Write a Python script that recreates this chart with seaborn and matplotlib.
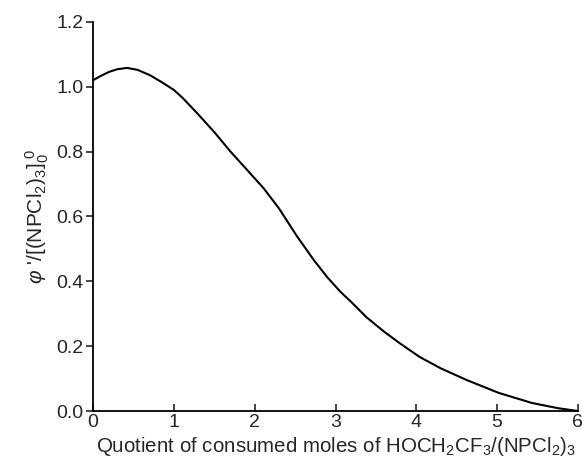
import matplotlib
matplotlib.use("Agg")
import matplotlib.pyplot as plt
import seaborn as sns
import pandas as pd

# values
quotient = [0, 0.1, 0.2, 0.3, 0.42, 0.55, 0.7, 0.85, 1.0, 1.11, 1.3, 1.5, 1.7,
            1.9, 2.11, 2.3, 2.52, 2.73, 2.9, 3.06, 3.2, 3.38, 3.6, 3.79, 4.04,
            4.3, 4.62, 5.02, 5.43, 5.75, 6.0]
phi_ratio = [1.02, 1.034, 1.046, 1.054, 1.058, 1.052, 1.036, 1.014, 0.99, 0.965,
             0.915, 0.86, 0.80, 0.745, 0.687, 0.625, 0.54, 0.466, 0.412, 0.368,
             0.335, 0.29, 0.245, 0.21, 0.167, 0.132, 0.096, 0.056, 0.025, 0.009,
             0.0]
xticks = [0, 1, 2, 3, 4, 5, 6]
yticks = [0.0, 0.2, 0.4, 0.6, 0.8, 1.0, 1.2]

df = pd.DataFrame({"q": quotient, "phi": phi_ratio})

sns.set_style("ticks")
plt.rcParams['font.family'] = ['Liberation Sans', 'DejaVu Sans']
plt.rcParams['mathtext.fontset'] = 'custom'
plt.rcParams['mathtext.rm'] = 'Liberation Sans'
plt.rcParams['mathtext.it'] = 'Liberation Sans:italic'

fig = plt.figure(figsize=(5.82, 4.65), dpi=100)
ax = fig.add_axes([0.16, 0.116, 0.833, 0.837])
sns.lineplot(data=df, x="q", y="phi", color="black", linewidth=1.5, ax=ax)
ax.lines[0].set_clip_on(False)

ax.set_xlim(0, 6)
ax.set_ylim(0, 1.2)
ax.set_xticks(xticks)
ax.set_yticks(yticks)
ax.set_yticklabels([f"{v:.1f}" for v in yticks])
ax.tick_params(axis="x", direction="in", length=5, width=1.2, labelsize=14, pad=2)
ax.tick_params(axis="y", direction="out", length=5, width=1.2, labelsize=14, pad=2)
for s in ["left", "bottom"]:
    ax.spines[s].set_linewidth(1.3)
    ax.spines[s].set_color("black")
sns.despine(ax=ax)

ax.set_xlabel(r"Quotient of consumed moles of HOCH$_2$CF$_3$/(NPCl$_2$)$_3$",
              fontsize=14.8, labelpad=3)
ax.set_ylabel(r"$\it{\varphi}$ '/[(NPCl$_2$)$_3$]$_0^{\ 0}$", fontsize=15, labelpad=4)

fig.savefig("out.png", dpi=100)
